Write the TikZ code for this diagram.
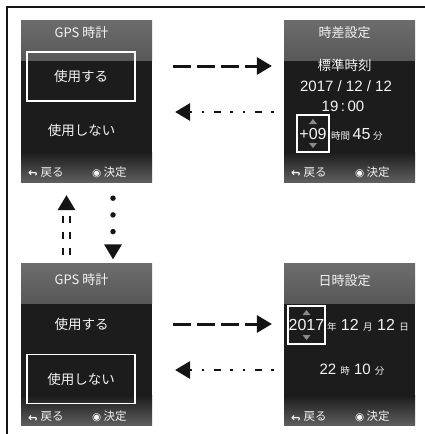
\documentclass[tikz,border=0pt]{standalone}
\usepackage{fontspec}
\setmainfont{Liberation Sans}
\newfontfamily\jp{Noto Sans CJK JP}
\newfontfamily\sym{DejaVu Sans}
\usepackage{graphicx}
\usetikzlibrary{arrows.meta,positioning}
\definecolor{gpsink}{HTML}{141414}
\definecolor{gpsdark}{HTML}{1C1C1C}
\definecolor{gpstop}{HTML}{6C6C6C}
\definecolor{gpsbot}{HTML}{5E5E5E}
\definecolor{gpsmark}{HTML}{8A8A8A}
\definecolor{gpstext}{HTML}{F4F4F4}
\newcommand{\smk}{\jp\fontsize{9.5}{10}\selectfont}
\newcommand{\backsym}{\raisebox{\depth}{\scalebox{1}[-1]{\sym\bfseries ↩}}}
\newcommand{\oksym}{{\sym\fontsize{10.5}{11}\selectfont ◉}}
\tikzset{
  scr/.style={minimum width=131pt, minimum height=162pt, inner sep=0pt, fill=gpsdark,
    path picture={
      \shade[top color=gpstop, bottom color=gpsdark] (path picture bounding box.north west) rectangle ([yshift=-40pt]path picture bounding box.north east);
      \shade[top color=gpsdark, bottom color=gpsbot] ([yshift=30pt]path picture bounding box.south west) rectangle (path picture bounding box.south east);
    }},
  txt/.style={text=gpstext, inner sep=0pt, outer sep=0pt},
  ttl/.style={txt, font=\jp\fontsize{13}{15}\selectfont},
  itm/.style={txt, font=\jp\fontsize{13.5}{15}\selectfont},
  sel/.style={itm, draw=white, line width=1.6pt, minimum width=108pt, minimum height=49pt},
  num/.style={txt, font=\fontsize{16}{18}\selectfont},
  box/.style={num, draw=white, line width=1.6pt},
  ft/.style={txt, anchor=west, font=\jp\fontsize{11.5}{13}\selectfont},
  tri/.style={fill=gpsmark},
  tip/.style={-{Triangle[length=15pt, width=18pt, line width=0pt]}},
  fw/.style={tip, line width=3pt, dash pattern=on 18pt off 6pt, color=gpsink},
  bk/.style={tip, line width=2.6pt, dash pattern=on 2.5pt off 9.5pt on 7pt off 9.5pt on 2.5pt off 10pt, color=gpsink},
  dbl/.style={tip, line width=1.8pt, double=white, double distance=5.5pt, dash pattern=on 7pt off 9pt, color=gpsink},
  dt/.style={tip, line width=5.5pt, line cap=round, dash pattern=on 0pt off 16.7pt, color=gpsink},
}
\begin{document}
\begin{tikzpicture}[x=1pt, y=-1pt]
  \useasboundingbox (0,0) rectangle (425,434);
  \draw[line width=2.6pt, color=gpsink] (425,7) -- (7,7) -- (7,434);
  % screens
  \node[scr] (gpson) at (86.5,101) {};
  \node[scr] (zone) at (349.5,101) {};
  \node[scr] (gpsoff) at (86.5,344.5) {};
  \node[scr] (clock) at (349.5,344.5) {};
  % GPS on
  \node[ttl] (ttl1) at (81.5,33) {GPS 時計};
  \node[sel] (on1) at (81,76.5) {使用する};
  \node[itm] (off1) at (81.5,130) {使用しない};
  \node[ft] (back1) at (28,172) {\backsym\hspace{3pt}戻る};
  \node[ft] (ok1) at (92,172) {\oksym\hspace{2.5pt}決定};
  % time zone
  \node[ttl] (ttl2) at (344.5,33) {時差設定};
  \node[itm] (std) at (344.5,65) {標準時刻};
  \node[num, font=\fontsize{15}{17}\selectfont] (date2) at (346,86) {2017 / 12 / 12};
  \node[num, font=\fontsize{15}{17}\selectfont] (time2) at (343,106) {19\,:\,00};
  \node[box, minimum width=32pt, minimum height=37pt] (ofs) at (313,133.5) {+09};
  \node[num, base right=2pt of ofs] (ofsm) {{\smk 時間}\,45\,{\smk 分}};
  \fill[tri] ([yshift=-4pt]ofs.north) -- ++(4,5) -- ++(-8,0) -- cycle;
  \fill[tri] ([yshift=4pt]ofs.south) -- ++(4,-5) -- ++(-8,0) -- cycle;
  \node[ft] (back2) at (291,172) {\backsym\hspace{3pt}戻る};
  \node[ft] (ok2) at (355,172) {\oksym\hspace{2.5pt}決定};
  % GPS off
  \node[ttl] (ttl3) at (81.5,280) {GPS 時計};
  \node[itm] (on3) at (81.5,324) {使用する};
  \node[sel] (off3) at (81,379) {使用しない};
  \node[ft] (back3) at (28,416.5) {\backsym\hspace{3pt}戻る};
  \node[ft] (ok3) at (92,416.5) {\oksym\hspace{2.5pt}決定};
  % date and time
  \node[ttl] (ttl4) at (344.5,281) {日時設定};
  \node[box, minimum width=37pt, minimum height=38pt] (yr) at (306.5,325) {2017};
  \node[num, base right=2pt of yr] (md) {{\smk 年}\ 12\ {\smk 月}\ 12\ {\smk 日}};
  \fill[tri] ([yshift=-4pt]yr.north) -- ++(4,5) -- ++(-8,0) -- cycle;
  \fill[tri] ([yshift=4pt]yr.south) -- ++(4,-5) -- ++(-8,0) -- cycle;
  \node[num, font=\fontsize{15}{17}\selectfont] (hm) at (352,370) {22\ {\smk 時}\ 10\ {\smk 分}};
  \node[ft] (back4) at (291,416.5) {\backsym\hspace{3pt}戻る};
  \node[ft] (ok4) at (355,416.5) {\oksym\hspace{2.5pt}決定};
  % transitions
  \draw[fw, shorten <=21pt, shorten >=12pt] ([yshift=35pt]gpson.east) -- ([yshift=35pt]zone.west);
  \draw[bk, shorten <=10pt, shorten >=23pt] ([yshift=-11pt]zone.west) -- ([yshift=-11pt]gpson.east);
  \draw[dbl, shorten <=8pt, shorten >=13pt] ([xshift=-20pt]gpsoff.north) -- ([xshift=-20pt]gpson.south);
  \draw[dt, shorten <=16pt, shorten >=4pt] ([xshift=26.5pt]gpson.south) -- ([xshift=26.5pt]gpsoff.north);
  \draw[fw, shorten <=21pt, shorten >=12pt] ([yshift=20.5pt]gpsoff.east) -- ([yshift=20.5pt]clock.west);
  \draw[bk, shorten <=10pt, shorten >=23pt] ([yshift=-25.5pt]clock.west) -- ([yshift=-25.5pt]gpsoff.east);
\end{tikzpicture}
\end{document}
